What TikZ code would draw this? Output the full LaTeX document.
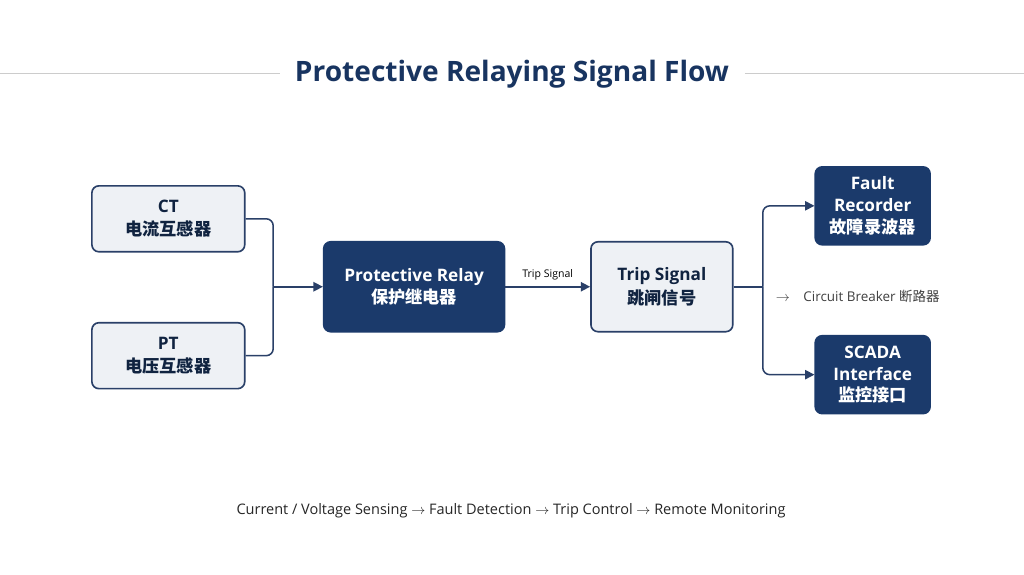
\documentclass[tikz,border=0pt]{standalone}
\usepackage{fontspec}
\setmainfont{Open Sans}
\newfontfamily\cjk{Noto Sans CJK SC}
\usetikzlibrary{positioning,arrows.meta}
\definecolor{navy}{HTML}{1B3A6B}
\definecolor{edgeblue}{HTML}{2A4068}
\definecolor{lightbox}{HTML}{EEF1F5}
\begin{document}
\begin{tikzpicture}[x=0.03cm,y=-0.03cm,
    block_light/.style ={rectangle, rounded corners=6pt, draw=edgeblue, line width=1.4pt, fill=lightbox, text=navy!60!black, align=center, inner sep=0pt, font=\bfseries\fontsize{14.7}{20}\selectfont},
    block_dark/.style ={rectangle, rounded corners=6pt, draw=navy, line width=1.4pt, fill=navy, text=white, align=center, inner sep=0pt, font=\bfseries\fontsize{14.7}{18.5}\selectfont},
    line/.style ={draw=edgeblue, line width=1.3pt, rounded corners=6pt},
    arrow/.style ={line, -{Triangle[length=8pt,width=8pt]}}]
    % background and margins
    \fill[white] (0,0) rectangle (1024,575);
    % title
    \node[font=\bfseries\fontsize{24}{28}\selectfont, text=navy!90!black] (title) at (512,74) {Protective Relaying Signal Flow};
    \draw[gray!40, line width=0.8pt] (0,74) -- (280,74);
    \draw[gray!40, line width=0.8pt] (745,74) -- (1024,74);
    % blocks
    \node[block_light, minimum width=153*0.03cm, minimum height=66*0.03cm] (ct) at (168,219) {CT\\{\cjk 电流互感器}};
    \node[block_light, minimum width=153*0.03cm, minimum height=66*0.03cm] (pt) at (168,356) {PT\\{\cjk 电压互感器}};
    \node[block_dark, minimum width=181*0.03cm, minimum height=90*0.03cm] (relay) at (414,287) {Protective Relay\\{\cjk 保护继电器}};
    \node[block_light, minimum width=142*0.03cm, minimum height=90*0.03cm] (trip) at (662,287) {Trip Signal\\{\cjk 跳闸信号}};
    \node[block_dark, minimum width=115*0.03cm, minimum height=78*0.03cm] (recorder) at (873,206) {Fault\\Recorder\\{\cjk 故障录波器}};
    \node[block_dark, minimum width=115*0.03cm, minimum height=78*0.03cm] (scada) at (873,375) {SCADA\\Interface\\{\cjk 监控接口}};
    % junctions
    \coordinate (merge) at (273,287);
    \coordinate (split) at (763,287);
    % connectors
    \path[line] (ct.east) -| (merge);
    \path[line] (pt.east) -| (merge);
    \path[arrow] (merge) -- (relay.west);
    \path[arrow] (relay.east) -- node[above, font=\fontsize{9}{11}\selectfont, yshift=2pt]{Trip Signal} (trip.west);
    \path[line] (trip.east) -- (split);
    \path[arrow] (split) |- (recorder.west);
    \path[arrow] (split) |- (scada.west);
    % side note and footer
    \node[anchor=west, font=\fontsize{11.5}{13}\selectfont, text=black!75] (breaker) at (772,297) {$\rightarrow$\quad Circuit Breaker {\cjk 断路器}};
    \node[font=\fontsize{12.4}{15}\selectfont, text=black!85] (footer) at (511,511) {Current / Voltage Sensing $\rightarrow$ Fault Detection $\rightarrow$ Trip Control $\rightarrow$ Remote Monitoring};
\end{tikzpicture}
\end{document}
